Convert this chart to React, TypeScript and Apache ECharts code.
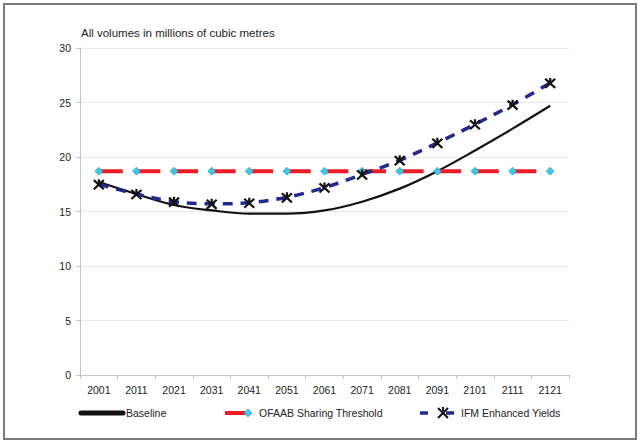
import React, { useEffect, useRef } from "react";
import * as echarts from "echarts";

const years = ["2001", "2011", "2021", "2031", "2041", "2051", "2061", "2071", "2081", "2091", "2101", "2111", "2121"];
const baseline = [17.7, 16.6, 15.6, 15.1, 14.8, 14.8, 15.1, 15.9, 17.1, 18.7, 20.6, 22.6, 24.7];
const ofaab = [18.7, 18.7, 18.7, 18.7, 18.7, 18.7, 18.7, 18.7, 18.7, 18.7, 18.7, 18.7, 18.7];
const ifm = [17.5, 16.6, 15.9, 15.7, 15.8, 16.3, 17.2, 18.4, 19.7, 21.3, 23.0, 24.8, 26.8];
const seriesNames = ["Baseline", "OFAAB Sharing Threshold", "IFM Enhanced Yields"];
const titleText = "All volumes in millions of cubic metres";

const FONT = "'Liberation Sans', Arial, sans-serif";
const NAVY = "#1f2a8c";
const RED = "#ee1c25";
const CYAN = "#3cc8e8";
const XPATH = "path://M0,0L10,10M10,0L0,10M5,-1L5,3";

export default function App() {
  const ref = useRef<HTMLDivElement>(null);
  useEffect(() => {
    const chart = echarts.init(ref.current!, null, { renderer: "svg" });
    chart.setOption({
      animation: false,
      backgroundColor: "#fff",
      textStyle: { fontFamily: FONT },
      grid: { left: 80, right: 71, top: 48, bottom: 69 },
      xAxis: {
        type: "category",
        data: years,
        boundaryGap: true,
        axisLine: { lineStyle: { color: "#c4c4c4", width: 1 } },
        axisTick: { show: true, length: 4, lineStyle: { color: "#c4c4c4" } },
        axisLabel: { color: "#222", fontSize: 10.5, margin: 9, fontFamily: FONT },
      },
      yAxis: {
        type: "value",
        min: 0,
        max: 30,
        interval: 5,
        axisLine: { show: true, lineStyle: { color: "#c4c4c4", width: 1 } },
        axisTick: { show: true, length: 4, lineStyle: { color: "#c4c4c4" } },
        axisLabel: { color: "#222", fontSize: 10.5, margin: 9, fontFamily: FONT },
        splitLine: { show: true, lineStyle: { color: "#e8e8e8", width: 1 } },
      },
      series: [
        {
          name: seriesNames[0],
          type: "line",
          data: baseline,
          smooth: 0.35,
          showSymbol: false,
          symbol: "none",
          lineStyle: { color: "#111", width: 2.2 },
          z: 2,
        },
        {
          name: seriesNames[1],
          type: "line",
          data: ofaab,
          symbol: "diamond",
          symbolSize: 8,
          itemStyle: { color: CYAN, borderColor: "#2a8fb0", borderWidth: 0.6 },
          lineStyle: { color: RED, width: 4, type: [24, 13.6] },
          z: 3,
        },
        {
          name: seriesNames[2],
          type: "line",
          data: ifm,
          smooth: 0.35,
          symbol: XPATH,
          symbolSize: 10,
          itemStyle: { color: "none", borderColor: "#111", borderWidth: 2.2 },
          lineStyle: { color: NAVY, width: 3.5, type: [10, 8] },
          z: 4,
        },
      ],
      graphic: [
        {
          type: "rect",
          shape: { x: 4, y: 4, width: 632, height: 435 },
          style: { fill: "none", stroke: "#7a7a7a", lineWidth: 2 },
          silent: true,
        },
        {
          type: "text",
          left: 81,
          top: 27,
          style: { text: titleText, fill: "#222", font: "11.5px " + FONT },
        },
        // Legend: Baseline
        {
          type: "line",
          shape: { x1: 81, y1: 413, x2: 123, y2: 413 },
          style: { stroke: "#111", lineWidth: 5, lineCap: "round" },
        },
        {
          type: "text",
          x: 126,
          y: 413,
          style: { text: seriesNames[0], font: "10.5px " + FONT, fill: "#222", textVerticalAlign: "middle" },
        },
        // Legend: OFAAB
        {
          type: "line",
          shape: { x1: 225, y1: 413, x2: 248, y2: 413 },
          style: { stroke: RED, lineWidth: 4 },
        },
        {
          type: "polygon",
          shape: { points: [[248, 409], [252, 413], [248, 417], [244, 413]] },
          style: { fill: CYAN, stroke: "#2a8fb0", lineWidth: 0.6 },
        },
        {
          type: "text",
          x: 259,
          y: 413,
          style: { text: seriesNames[1], font: "10.5px " + FONT, fill: "#222", textVerticalAlign: "middle" },
        },
        // Legend: IFM
        {
          type: "line",
          shape: { x1: 420, y1: 413, x2: 428, y2: 413 },
          style: { stroke: NAVY, lineWidth: 3.5 },
        },
        {
          type: "line",
          shape: { x1: 446, y1: 413, x2: 454, y2: 413 },
          style: { stroke: NAVY, lineWidth: 3.5 },
        },
        {
          type: "polyline",
          shape: { points: [[438, 408], [448, 418]] },
          style: { stroke: "#111", lineWidth: 2, fill: "none" },
        },
        {
          type: "polyline",
          shape: { points: [[448, 408], [438, 418]] },
          style: { stroke: "#111", lineWidth: 2, fill: "none" },
        },
        {
          type: "polyline",
          shape: { points: [[443, 407], [443, 411]] },
          style: { stroke: "#111", lineWidth: 2, fill: "none" },
        },
        {
          type: "text",
          x: 461,
          y: 413,
          style: { text: seriesNames[2], font: "10.5px " + FONT, fill: "#222", textVerticalAlign: "middle" },
        },
      ],
    });
    return () => chart.dispose();
  }, []);
  return (
    <div
      ref={ref}
      style={{ position: "absolute", left: 0, top: 0, width: 640, height: 444 }}
    />
  );
}
